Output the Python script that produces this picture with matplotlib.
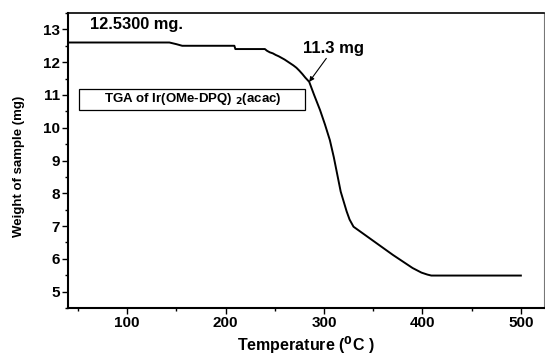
import matplotlib
matplotlib.use("Agg")
import matplotlib.pyplot as plt
from matplotlib.ticker import MultipleLocator
from matplotlib.patches import Rectangle

plt.rcParams['font.family'] = ['Liberation Sans', 'DejaVu Sans']

temperature = [40, 143, 150, 156, 209, 210, 240, 242, 245, 248, 251, 254, 257, 260,
               263, 266, 269, 272, 275, 278, 281, 285, 290, 296, 301, 306, 310,
               314, 317, 320, 323, 326, 330, 350, 370, 390, 399, 405, 409, 500]
weight = [12.6, 12.6, 12.55, 12.5, 12.5, 12.4, 12.4, 12.35, 12.3, 12.27, 12.22, 12.18,
          12.13, 12.08, 12.02, 11.96, 11.9, 11.83, 11.74, 11.64, 11.53, 11.4, 11.0, 10.54,
          10.1, 9.62, 9.1, 8.5, 8.05, 7.75, 7.45, 7.2, 6.98, 6.55, 6.12, 5.72, 5.58,
          5.52, 5.49, 5.49]

xticks = [100, 200, 300, 400, 500]
yticks = [5, 6, 7, 8, 9, 10, 11, 12, 13]

fig = plt.figure(figsize=(5.45, 3.56), dpi=100)
ax = fig.add_axes([68/545, 1-308/356, (544-68)/545, (308-13)/356])
ax.plot(temperature, weight, color='black', lw=1.4)
ax.set_xlim(40, 523.5)
ax.set_ylim(4.5, 13.5)
ax.set_xticks(xticks)
ax.set_yticks(yticks)
ax.xaxis.set_minor_locator(MultipleLocator(50))
ax.yaxis.set_minor_locator(MultipleLocator(0.5))
ax.tick_params(which='major', direction='out', length=4.5, width=1, labelsize=11, pad=1.5)
ax.tick_params(which='minor', direction='out', length=2.5, width=1)
for lab in ax.get_xticklabels() + ax.get_yticklabels():
    lab.set_fontweight('bold')
ax.spines['left'].set_linewidth(1.5)
ax.spines['bottom'].set_linewidth(1.5)
ax.spines['top'].set_linewidth(1.2)
ax.spines['right'].set_linewidth(0.8)
ax.spines['right'].set_color('#777777')

fig.text(306/545, 1-345/356, 'Temperature ($\\mathbf{^0}$C )', fontsize=11.5,
         fontweight='bold', ha='center', va='center')
fig.text(19/545, 1-166/356, 'Weight of sample (mg)', fontsize=9.5, fontweight='bold',
         rotation=90, ha='center', va='center')

ax.text((90-68)/476, 1-(25-13)/295, '12.5300 mg.', transform=ax.transAxes, fontsize=11.8,
        fontweight='bold', va='center', ha='left')
ax.annotate('11.3 mg', xy=(285, 11.4), xytext=(310, 12.2), fontsize=12,
            fontweight='bold', ha='center', va='bottom',
            arrowprops=dict(arrowstyle='-|>', color='black', lw=0.8,
                            mutation_scale=7, shrinkA=0, shrinkB=0))
ax.add_patch(Rectangle((0.023, 0.671), 0.475, 0.071, transform=ax.transAxes,
                       facecolor='white', edgecolor='black', lw=0.9))
ax.text(0.2626, 0.707, 'TGA of Ir(OMe-DPQ) $_\\mathbf{2}$(acac)', transform=ax.transAxes,
        fontsize=9.5, fontweight='bold', va='center', ha='center')

fig.savefig('out.png', dpi=100)
